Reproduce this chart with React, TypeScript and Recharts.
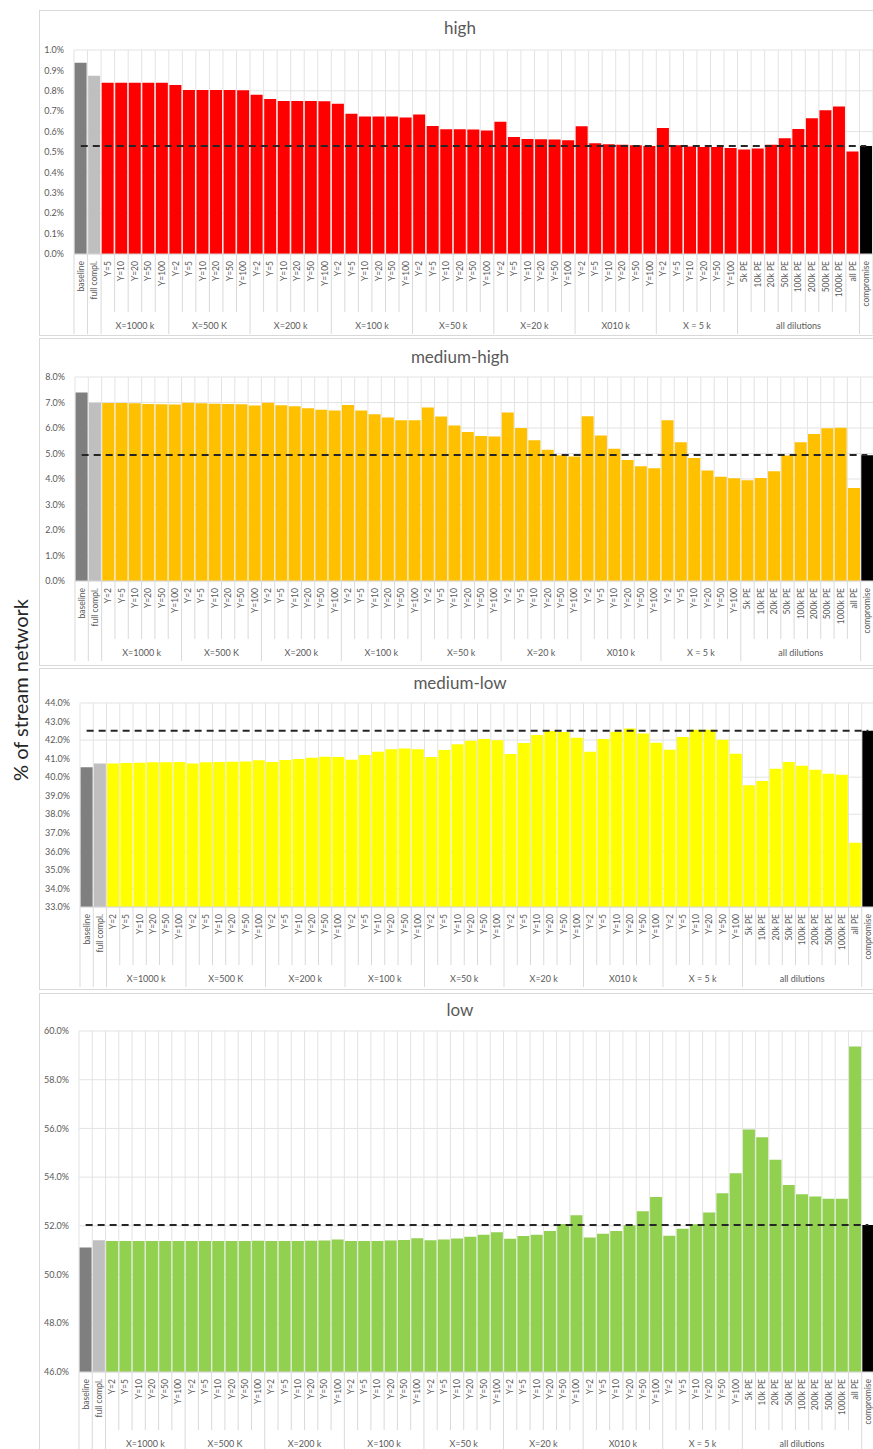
import React from 'react';
import { ComposedChart, Bar, Line, Cell, XAxis, YAxis, CartesianGrid } from 'recharts';

const groupNames = ['X=1000 k', 'X=500 K', 'X=200 k', 'X=100 k', 'X=50 k', 'X=20 k', 'X010 k', 'X = 5 k'];
const yLabels = ['Y=2', 'Y=5', 'Y=10', 'Y=20', 'Y=50', 'Y=100'];
const yLabelsHighFirst = ['Y=5', 'Y=10', 'Y=20', 'Y=50', 'Y=100'];
const dilutionLabels = ['5k PE', '10k PE', '20k PE', '50k PE', '100k PE', '200k PE', '500k PE', '1000k PE', 'all PE'];

// baseline, full compl., 8 X groups, dilutions, compromise
const highValues = [
  0.938, 0.874,
  0.84, 0.84, 0.84, 0.84, 0.84,
  0.829, 0.804, 0.804, 0.804, 0.804, 0.803,
  0.781, 0.76, 0.75, 0.75, 0.75, 0.749,
  0.736, 0.688, 0.674, 0.674, 0.674, 0.669,
  0.684, 0.628, 0.612, 0.612, 0.61, 0.605,
  0.648, 0.573, 0.564, 0.563, 0.561, 0.558,
  0.626, 0.543, 0.538, 0.535, 0.533, 0.53,
  0.618, 0.533, 0.527, 0.525, 0.524, 0.519,
  0.512, 0.517, 0.535, 0.568, 0.613, 0.666, 0.705, 0.723, 0.502,
  0.53,
];
const mediumHighValues = [
  7.39, 6.99,
  6.98, 6.98, 6.97, 6.94, 6.93, 6.92,
  6.99, 6.97, 6.95, 6.94, 6.93, 6.88,
  6.99, 6.89, 6.85, 6.77, 6.72, 6.69,
  6.9, 6.69, 6.54, 6.41, 6.3, 6.3,
  6.8, 6.45, 6.1, 5.84, 5.69, 5.67,
  6.61, 6.0, 5.52, 5.15, 4.93, 4.88,
  6.46, 5.71, 5.19, 4.75, 4.5, 4.42,
  6.3, 5.44, 4.82, 4.33, 4.09, 4.03,
  3.95, 4.04, 4.3, 4.92, 5.44, 5.76, 5.99, 6.01, 3.65,
  4.93,
];
const mediumLowValues = [
  40.53, 40.74,
  40.74, 40.76, 40.78, 40.8, 40.8, 40.82,
  40.74, 40.8, 40.82, 40.83, 40.85, 40.91,
  40.82, 40.92, 40.98, 41.05, 41.1, 41.09,
  40.94, 41.19, 41.37, 41.5, 41.55, 41.5,
  41.09, 41.47, 41.77, 41.97, 42.06, 41.99,
  41.25, 41.84, 42.27, 42.49, 42.44, 42.13,
  41.37, 42.06, 42.45, 42.63, 42.36, 41.86,
  41.48, 42.17, 42.56, 42.56, 42.02, 41.27,
  39.56, 39.79, 40.46, 40.82, 40.62, 40.4, 40.19, 40.13, 36.46,
  42.51,
];
const lowValues = [
  51.11, 51.41,
  51.38, 51.38, 51.38, 51.38, 51.38, 51.38,
  51.38, 51.38, 51.38, 51.38, 51.38, 51.39,
  51.38, 51.38, 51.38, 51.39, 51.4, 51.44,
  51.38, 51.38, 51.38, 51.4, 51.42, 51.49,
  51.41, 51.44, 51.48, 51.55, 51.64, 51.74,
  51.47, 51.58, 51.64, 51.79, 52.08, 52.44,
  51.52, 51.68, 51.79, 52.03, 52.6, 53.18,
  51.59, 51.88, 52.07, 52.55, 53.34, 54.16,
  55.96, 55.64, 54.71, 53.68, 53.3, 53.21, 53.11, 53.11, 59.36,
  52.04,
];

const highTarget = 0.53;
const mediumHighTarget = 4.94;
const mediumLowTarget = 42.51;
const lowTarget = 52.04;

const highTicks = [0, 0.1, 0.2, 0.3, 0.4, 0.5, 0.6, 0.7, 0.8, 0.9, 1.0];
const mediumHighTicks = [0, 1, 2, 3, 4, 5, 6, 7, 8];
const mediumLowTicks = [33, 34, 35, 36, 37, 38, 39, 40, 41, 42, 43, 44];
const lowTicks = [46, 48, 50, 52, 54, 56, 58, 60];

type Cat = { label: string; groupName: string; groupStart: boolean; groupSize: number };

function buildCategories(firstGroup: string[]): Cat[] {
  const cats: Cat[] = [];
  const push = (labels: string[], name: string) =>
    labels.forEach((l, i) => cats.push({ label: l, groupName: name, groupStart: i === 0, groupSize: labels.length }));
  push(['baseline'], '');
  push(['full compl.'], '');
  groupNames.forEach((g, gi) => push(gi === 0 ? firstGroup : yLabels, g));
  push(dilutionLabels, 'all dilutions');
  push(['compromise'], '');
  return cats;
}

const FONT = 'Lato, "Open Sans", sans-serif';
const W = 840;
const LINE = '#d9d9d9';

interface PanelProps {
  title: string;
  values: number[];
  target: number;
  color: string;
  ticks: number[];
  cats: Cat[];
  panelTop: number;
  panelH: number;
  plotTop: number;
  plotBottom: number;
  titleY: number;
  yW: number;
  plotW: number;
}

function Panel({ title, values, target, color, ticks, cats, panelTop, panelH, plotTop, plotBottom, titleY, yW, plotW }: PanelProps) {
  const rows = cats.map((c, i) => ({ id: 'c' + i, ...c, value: values[i], target }));
  const n = rows.length;
  const bw = plotW / n;
  const chartH = panelH - 2;
  const mTop = plotTop - panelTop - 1;
  const plotH = plotBottom - plotTop;
  const xH = chartH - mTop - plotH;

  const renderTick = (p: any) => {
    const { x, y, index } = p;
    const c = rows[index];
    if (!c) return <g />;
    const left = x - bw / 2;
    return (
      <g>
        <line x1={left} x2={left} y1={y} y2={y + (c.groupStart ? 80 : 58)} stroke={LINE} strokeWidth={1} />
        {index === n - 1 && <line x1={x + bw / 2} x2={x + bw / 2} y1={y} y2={y + 80} stroke={LINE} strokeWidth={1} />}
        <text
          x={x}
          y={y + 7}
          transform={`rotate(-90 ${x} ${y + 7})`}
          textAnchor="end"
          dy="0.35em"
          fontSize={8.5}
          fill="#595959"
          fontFamily={FONT}
        >
          {c.label}
        </text>
        {c.groupStart && c.groupName && (
          <text x={left + (c.groupSize * bw) / 2} y={y + 75} textAnchor="middle" fontSize={9} fill="#595959" fontFamily={FONT}>
            {c.groupName}
          </text>
        )}
      </g>
    );
  };

  return (
    <div
      style={{
        position: 'absolute',
        left: 39,
        top: panelTop,
        width: W + 10,
        height: panelH,
        border: `1px solid ${LINE}`,
        boxSizing: 'border-box',
        background: '#fff',
      }}
    >
      <div
        style={{
          position: 'absolute',
          left: 0,
          width: W,
          top: titleY - panelTop - 12,
          textAlign: 'center',
          fontFamily: FONT,
          fontSize: 17,
          color: '#595959',
          lineHeight: '22px',
        }}
      >
        {title}
      </div>
      <div style={{ position: 'absolute', left: 0, top: 0 }}>
        <ComposedChart
          width={W}
          height={chartH}
          data={rows}
          margin={{ top: mTop, right: W - yW - plotW, bottom: 0, left: 0 }}
          barCategoryGap={0.6}
        >
          <CartesianGrid
            stroke="#e3e3e3"
            verticalCoordinatesGenerator={({ offset }: any) =>
              Array.from({ length: n + 1 }, (_, i) => offset.left + (i * offset.width) / n)
            }
          />
          <XAxis
            dataKey="id"
            interval={0}
            tickLine={false}
            tickSize={0}
            tickMargin={0}
            axisLine={{ stroke: LINE }}
            height={xH}
            tick={renderTick}
          />
          <YAxis
            width={yW}
            domain={[ticks[0], ticks[ticks.length - 1]]}
            ticks={ticks}
            allowDataOverflow
            axisLine={false}
            tickLine={false}
            tickMargin={4}
            tick={{ fontSize: 9, fill: '#595959', fontFamily: FONT }}
            tickFormatter={(v: number) => v.toFixed(1) + '%'}
          />
          <Bar dataKey="value" isAnimationActive={false}>
            {rows.map((r, i) => (
              <Cell key={r.id} fill={i === 0 ? '#7f7f7f' : i === 1 ? '#bfbfbf' : i === n - 1 ? '#000000' : color} />
            ))}
          </Bar>
          <Line
            dataKey="target"
            type="linear"
            stroke="#262626"
            strokeWidth={2}
            strokeDasharray="7 5"
            dot={false}
            activeDot={false}
            isAnimationActive={false}
          />
        </ComposedChart>
      </div>
    </div>
  );
}

export default function App() {
  const catsHigh = buildCategories(yLabelsHighFirst);
  const cats = buildCategories(yLabels);
  return (
    <div
      style={{
        position: 'absolute',
        left: 0,
        top: 0,
        width: 873,
        height: 1449,
        overflow: 'hidden',
        background: '#fff',
      }}
    >
      <Panel title="high" values={highValues} target={highTarget} color="#ff0000" ticks={highTicks} cats={catsHigh}
        panelTop={10} panelH={326} plotTop={50} plotBottom={254} titleY={28} yW={34} plotW={799} />
      <Panel title="medium-high" values={mediumHighValues} target={mediumHighTarget} color="#ffc000" ticks={mediumHighTicks} cats={cats}
        panelTop={338} panelH={328} plotTop={377} plotBottom={581} titleY={357} yW={35} plotW={799} />
      <Panel title="medium-low" values={mediumLowValues} target={mediumLowTarget} color="#ffff00" ticks={mediumLowTicks} cats={cats}
        panelTop={668} panelH={322} plotTop={703} plotBottom={907} titleY={683} yW={40} plotW={795} />
      <Panel title="low" values={lowValues} target={lowTarget} color="#92d050" ticks={lowTicks} cats={cats}
        panelTop={993} panelH={470} plotTop={1031} plotBottom={1372} titleY={1010} yW={39} plotW={796} />
      <div
        style={{
          position: 'absolute',
          left: 20 - 150,
          top: 690 - 13,
          width: 300,
          height: 26,
          lineHeight: '26px',
          textAlign: 'center',
          transform: 'rotate(-90deg)',
          fontFamily: FONT,
          fontSize: 20,
          color: '#262626',
        }}
      >
        % of stream network
      </div>
    </div>
  );
}
